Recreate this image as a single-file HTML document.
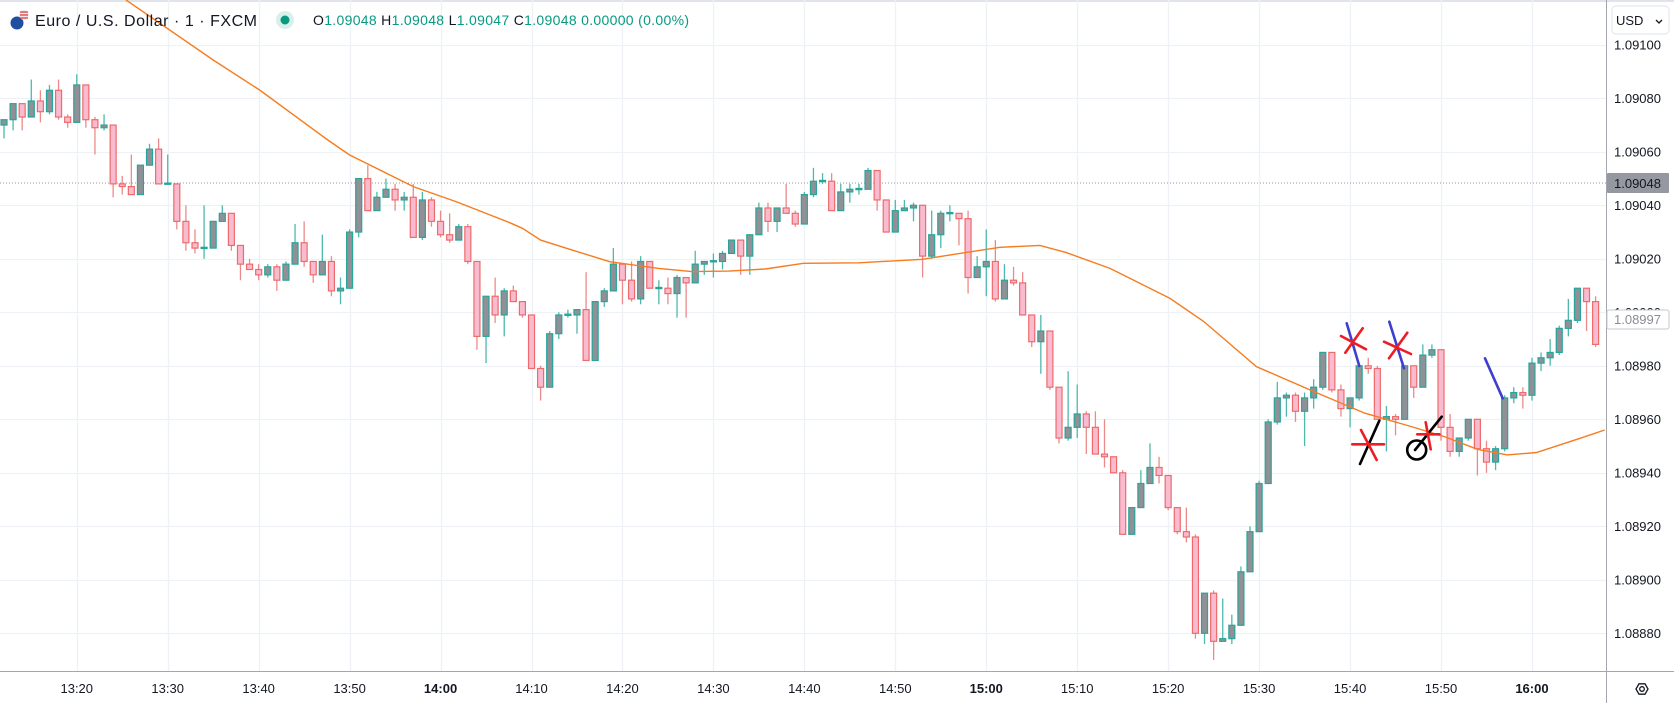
<!DOCTYPE html>
<html><head><meta charset="utf-8">
<style>
html,body{margin:0;padding:0;background:#fff;}
body{width:1674px;height:703px;overflow:hidden;position:relative;font-family:"Liberation Sans",sans-serif;}
svg{position:absolute;left:0;top:0;}
</style></head>
<body>
<svg id="chart" width="1674" height="703" viewBox="0 0 1674 703" xmlns="http://www.w3.org/2000/svg">
  <defs><clipPath id="plotclip"><rect x="0" y="0" width="1606" height="671"/></clipPath></defs>
  <rect x="0" y="0" width="1674" height="703" fill="#ffffff"/>
  <rect x="0" y="0" width="1674" height="2" fill="#e0e3eb"/>
  <g id="grid"></g>
  <line x1="0" y1="183" x2="1606" y2="183" stroke="#9598a1" stroke-width="1" stroke-dasharray="1,2"/>
  <g id="candles" clip-path="url(#plotclip)"></g>
  <path id="ma" clip-path="url(#plotclip)" fill="none" stroke="#f57c1f" stroke-width="1.4"/>
  <g id="drawings" stroke-linecap="round" fill="none" stroke-width="2.6">
    <line x1="1346.7" y1="323.3" x2="1359.3" y2="366" stroke="#3f3fcf"/>
    <line x1="1341" y1="336" x2="1366" y2="349.3" stroke="#ee1c25"/>
    <line x1="1362.7" y1="328.3" x2="1345.3" y2="352.7" stroke="#ee1c25"/>
    <line x1="1389.3" y1="321.7" x2="1404" y2="368.3" stroke="#3f3fcf"/>
    <line x1="1384" y1="341.7" x2="1411" y2="354" stroke="#ee1c25"/>
    <line x1="1407.3" y1="332.7" x2="1389" y2="358.3" stroke="#ee1c25"/>
    <line x1="1379.3" y1="420.7" x2="1360" y2="464" stroke="#000"/>
    <line x1="1352.3" y1="444.3" x2="1384" y2="444.3" stroke="#ee1c25"/>
    <line x1="1361" y1="430" x2="1376.7" y2="460" stroke="#ee1c25"/>
    <line x1="1441.7" y1="416.7" x2="1415" y2="450" stroke="#000"/>
    <circle cx="1416.7" cy="450" r="9.5" stroke="#000"/>
    <line x1="1417.3" y1="434.3" x2="1439.3" y2="434.3" stroke="#ee1c25"/>
    <line x1="1425.7" y1="422.3" x2="1430.7" y2="449.3" stroke="#ee1c25"/>
    <line x1="1485" y1="358.3" x2="1502.7" y2="398.3" stroke="#3f3fcf"/>
  </g>
  <line x1="1606.5" y1="0" x2="1606.5" y2="703" stroke="#a3a6af" stroke-width="1"/>
  <line x1="0" y1="671.5" x2="1674" y2="671.5" stroke="#a3a6af" stroke-width="1"/>
  <g id="ylabels" font-family="Liberation Sans, sans-serif" font-size="13" fill="#131722"></g>
  <g id="xlabels" font-family="Liberation Sans, sans-serif" font-size="13" fill="#131722" text-anchor="middle"></g>
  <g>
    <rect x="1607" y="310" width="62" height="19" fill="#fff" stroke="#c6c8ce" rx="2"/>
    <text x="1614" y="324" font-size="13" fill="#8a8d96" font-family="Liberation Sans, sans-serif">1.08997</text>
  </g>
  <g>
    <rect x="1607" y="173" width="62" height="20" fill="#9598a1" rx="1"/>
    <text x="1614" y="188" font-size="13" fill="#131722" font-family="Liberation Sans, sans-serif">1.09048</text>
  </g>
  <g>
    <rect x="1612" y="6" width="57" height="28" rx="4" fill="#fff" stroke="#e0e3eb"/>
    <text x="1616" y="25" font-size="13" fill="#131722" font-family="Liberation Sans, sans-serif">USD</text>
    <path d="M1656 20 l3 3 l3 -3" stroke="#131722" stroke-width="1.3" fill="none"/>
  </g>
  <g stroke="#131722" stroke-width="1.3" fill="none">
    <polygon points="1636,689 1639,683.8 1645,683.8 1648,689 1645,694.2 1639,694.2"/>
    <circle cx="1642" cy="689" r="2.3"/>
  </g>
  <g font-family="Liberation Sans, sans-serif">
    <g>
      <circle cx="17" cy="23" r="6.5" fill="#1f4fa0"/>
      <circle cx="24" cy="15" r="5" fill="#e8eaf0"/>
      <path d="M20 12 h8 M20 15 h8 M20 18 h8" stroke="#e23b3b" stroke-width="1.2"/>
    </g>
    <text x="35" y="26" font-size="16" fill="#131722" textLength="222">Euro / U.S. Dollar · 1 · FXCM</text>
    <circle cx="285" cy="20" r="9" fill="#d9f0ea"/>
    <circle cx="285" cy="20" r="4.5" fill="#089981"/>
    <text x="313" y="25" font-size="14" fill="#089981" textLength="376"><tspan fill="#131722">O</tspan>1.09048 <tspan fill="#131722">H</tspan>1.09048 <tspan fill="#131722">L</tspan>1.09047 <tspan fill="#131722">C</tspan>1.09048 0.00000 (0.00%)</text>
  </g>
</svg>
<script>
// Prices are stored in points (0.00001) relative to 1.09000
const BASE_PRICE = 1.09000;
const POINT = 0.00001;
const openPts = [70,72,78,73,79,75,83,73,71,85,72,69,70,48,47,44,55,61,48,48,34,26,24,24,34,37,25,18,16,14,17,12,18,26,19,14,19,8,9,30,50,38,43,46,42,43,28,42,34,29,27,32,19,-9,6,-1,8,4,-1,-21,-28,-8,-1,-1,1,-18,4,8,18,12,5,19,9,9,7,13,11,18,19,19,22,27,21,29,39,34,39,37,33,44,49,49,38,45,46,46,53,42,30,38,39,40,21,29,37,37,35,13,17,19,5,12,11,-1,-11,-7,-28,-47,-43,-38,-43,-53,-54,-60,-83,-73,-64,-58,-61,-73,-82,-84,-120,-105,-123,-122,-117,-97,-82,-64,-41,-32,-31,-37,-32,-28,-15,-29,-36,-32,-20,-21,-40,-39,-40,-20,-28,-16,-14,-43,-52,-47,-40,-51,-56,-51,-32,-30,-31,-19,-17,-15,-6,-3,9,4];
const closePts = [72,78,73,79,75,83,73,71,85,72,69,70,48,47,44,55,61,48,48.3,34,26,24,24.3,34,37,25,18,16,14,17,12,18,26,19,14,19,8,9,30,50,38,43,46,42,43,28,42,34,29,27,32,19,-9,6,-1,8,4,-1,-21,-28,-8,-1,-0.7,1,-18,4,8,18,12,5,19,9,9.3,7,13,11,18,19,19.3,22,27,21,29,39,34,39,37,33,44,49,49.3,38,45,46,46.3,53,42,30,38,39,40,21,29,37,37.3,35,13,17,19,5,12,11,-1,-11,-7,-28,-47,-43,-38,-43,-53,-54,-60,-83,-73,-64,-58,-61,-73,-82,-84,-120,-105,-123,-122,-117,-97,-82,-64,-41,-32,-31,-37,-32,-28,-15,-29,-36,-32,-20,-21,-40,-39,-40,-20,-28,-16,-14,-43,-52,-47,-40,-51,-56,-51,-32,-30,-31,-19,-17,-15,-6,-3,9,4,-12];
const highPts = [72,78,78,87,83,85,87,74,89,85,73,74,70,51,59,55,63,65,59,48,40,31,40,34,40,37,25,20,18,18,18,19,33,34,19,29,21,13,31,50,55,45,50,48,45,48,45,43,38,37,33,33,19,6,13,9,10,4,-1,-20,-7,0,1,1,15,4,9,24,18,19,21,19,12,13,14,13,23,19,22,23,27,27,29,41,41,39,48,38,45,54,52,52,48,48,48,54,53,42,42,42,41,40,38,38,40,37,38,21,31,27,18,17,15,-1,-1,-7,-28,-22,-27,-37,-37,-40,-54,-59,-73,-59,-49,-54,-61,-73,-73,-83,-105,-104,-107,-113,-95,-80,-63,-40,-26,-30,-30,-30,-25,-15,-15,-27,-32,-20,-17,-20,-35,-38,-20,-20,-12,-12,-14,-38,-47,-40,-40,-48,-50,-31,-28,-28,-17,-15,-10,-5,5,9,9,6];
const lowPts = [65,68,68,73,71,74,72,69,71,69,59,68,43,44,44,44,55,48,48,31,23,22,20,24,34,23,12,16,12,13,8,12,18,17,11,14,6,3,9,28,38,38,43,38,38,28,27,32,28,26,27,18,-14,-19,-4,-9,4,-2,-21,-33,-28,-10,-2,-8,-18,-18,2,8,3,4,3,9,3,3,-2,-2,11,14,13,16,22,14,14,29,30,30,37,32,33,43,48,38,38,41,44,46,38,30,30,38,34,13,20,24,34,25,7,13,6,4,5,10,-1,-13,-23,-29,-49,-48,-47,-53,-53,-58,-60,-83,-83,-73,-64,-64,-74,-83,-86,-122,-124,-130,-123,-124,-117,-97,-82,-64,-42,-39,-41,-50,-36,-29,-30,-39,-43,-33,-23,-40,-52,-46,-40,-32,-28,-17,-48,-54,-54,-48,-61,-60,-59,-52,-34,-36,-33,-22,-20,-16,-9,-4,-7,-13];
// Moving average samples: candle index and value (points)
const maIdx = [13.4,23,28.1,35.6,38,40.2,45,49.7,55.6,57,59,61.9,66.6,72,75.6,79.7,83.7,87.9,94,101,105.8,109.5,113.9,116.8,121.6,124.9,128.2,131.9,137.7,144,149.6,154.7,158.3,162,165.3,168.5,173.2,176];
const maPts = [116.8,94.3,83.1,64.4,58.8,55.1,47,41.4,33.5,31.4,27,23.9,18.9,16.4,15.2,15.4,16.2,18.3,18.5,19.8,22.4,24.3,25.0,22.3,16.4,10.8,5.2,-3.4,-20.3,-29.6,-37.7,-42.7,-46.4,-51.2,-53.3,-52.4,-47.2,-44];
const priceTicks = [1.09100,1.09080,1.09060,1.09040,1.09020,1.09000,1.08980,1.08960,1.08940,1.08920,1.08900,1.08880];
const timeLabels = ["13:20","13:30","13:40","13:50","14:00","14:10","14:20","14:30","14:40","14:50","15:00","15:10","15:20","15:30","15:40","15:50","16:00"];
const boldLabels = ["14:00","15:00","16:00"];
const firstLabelIndex = 8; // candle index of 13:20
const minutesPerLabel = 10;

const NS = "http://www.w3.org/2000/svg";
const X0 = 4, STEP = 9.095;
const Y_TOP_PRICE = 1.09100, Y_TOP = 44.8, PX_PER_PRICE = 53.5 / 0.0002;
function xScale(i){ return X0 + i * STEP; }
function yPrice(p){ return Y_TOP + (Y_TOP_PRICE - p) * PX_PER_PRICE; }
function yPts(v){ return yPrice(BASE_PRICE + v * POINT); }
function mk(tag, attrs){ const e = document.createElementNS(NS, tag); for (const k in attrs) e.setAttribute(k, attrs[k]); return e; }

const grid = document.getElementById('grid');
priceTicks.forEach(p => {
  const y = Math.round(yPrice(p)) + 0.5;
  const l = mk('line', {x1:0, x2:1606, y1:y, y2:y, stroke:'#eef1f6', 'stroke-width':1.3});
  
  
  grid.appendChild(l);
});
timeLabels.forEach((t, k) => {
  const x = Math.round(xScale(firstLabelIndex + k * minutesPerLabel)) + 0.5;
  const l = mk('line', {x1:x, x2:x, y1:0, y2:671, stroke:'#eef1f6', 'stroke-width':1.3});
  
  
  grid.appendChild(l);
});

const cg = document.getElementById('candles');
for (let i = 0; i < openPts.length; i++) {
  const o = openPts[i], c = closePts[i], h = highPts[i], lo = lowPts[i];
  const bull = c >= o;
  const x = xScale(i);
  const g = mk('g', {});
  
  
  const w = mk('line', {x1:x, x2:x, y1:yPts(h), y2:yPts(lo), stroke: bull ? '#4fb8ad' : '#ec8a8a', 'stroke-width':1.3});
  
  
  g.appendChild(w);
  const yt = yPts(Math.max(o, c)), yb = yPts(Math.min(o, c));
  const b = mk('rect', {x:x - 3, y:yt, width:6, height:Math.max(yb - yt, 1.2), fill: bull ? '#909096' : '#f8bbd0', stroke: bull ? '#26a69a' : '#ef6b6b', 'stroke-width':1.2});
  
  
  g.appendChild(b);
  cg.appendChild(g);
}

let d = '';
maIdx.forEach((ix, k) => { d += (k ? 'L' : 'M') + xScale(ix).toFixed(1) + ' ' + yPts(maPts[k]).toFixed(1) + ' '; });
document.getElementById('ma').setAttribute('d', d);

const yl = document.getElementById('ylabels');
priceTicks.forEach(p => {
  const t = mk('text', {x:1614, y:yPrice(p) + 4.5});
  t.textContent = p.toFixed(5);
  
  
  yl.appendChild(t);
});
const xl = document.getElementById('xlabels');
timeLabels.forEach((s, k) => {
  const t = mk('text', {x:xScale(firstLabelIndex + k * minutesPerLabel), y:693});
  if (boldLabels.indexOf(s) >= 0) t.setAttribute('font-weight', 'bold');
  t.textContent = s;
  
  
  xl.appendChild(t);
});
</script>
</body></html>
